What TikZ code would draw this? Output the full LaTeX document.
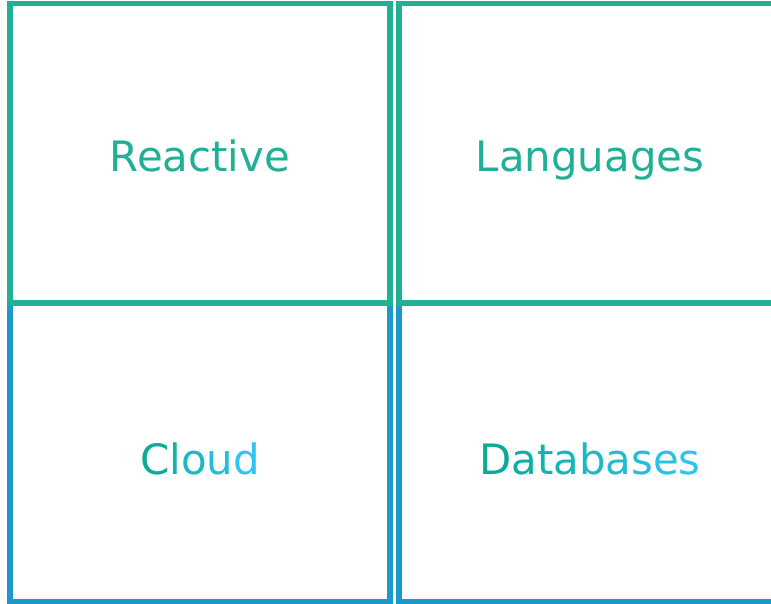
\documentclass[tikz,border=0pt]{standalone}
\usepackage{fontspec}
\setmainfont{DejaVu Sans}
\usepackage{tikz}

\definecolor{topline}{RGB}{32,176,150}
\definecolor{lowline}{RGB}{28,152,204}
\definecolor{fadefrom}{RGB}{10,172,150}
\definecolor{fadeto}{RGB}{46,196,240}

% one letter of a word that fades from teal to sky blue
\newcommand{\blend}[2]{\textcolor{fadeto!#1!fadefrom}{#2}}

\begin{document}
\begin{tikzpicture}[x=1bp, y=-1bp, line join=miter]
    \pgfmathsetmacro{\wl}{380}
    \pgfmathsetmacro{\wr}{382}

    \tikzset{%
      area_box/.style  = {draw, line width=5.5bp, inner sep=0pt, text depth=0pt,
                          font=\fontsize{42}{50}\selectfont},
      upper_box/.style = {area_box, draw=topline, text=topline,
                          minimum height=299.5bp, text height=37bp},
      lower_box/.style = {area_box, draw=lowline,
                          minimum height=298.5bp, text height=44bp}
    }

    \useasboundingbox (0,0) rectangle (771,604);
    \clip (0,0) rectangle (771,604);

    % lower row first, the upper row lies over its top edge
    \node[lower_box, minimum width=\wl bp] (cloud) at (200,452.25)
      {\blend{0}{C}\blend{25}{l}\blend{50}{o}\blend{75}{u}\blend{100}{d}};
    \node[lower_box, minimum width=\wr bp] (databases) at (590,452.25)
      {\blend{0}{D}\blend{12}{a}\blend{25}{t}\blend{37}{a}\blend{50}{b}%
       \blend{62}{a}\blend{75}{s}\blend{87}{e}\blend{100}{s}};

    \node[upper_box, minimum width=\wl bp] (reactive) at (200,153.25) {Reactive};
    \node[upper_box, minimum width=\wr bp] (languages) at (590,153.25) {Languages};
\end{tikzpicture}
\end{document}
